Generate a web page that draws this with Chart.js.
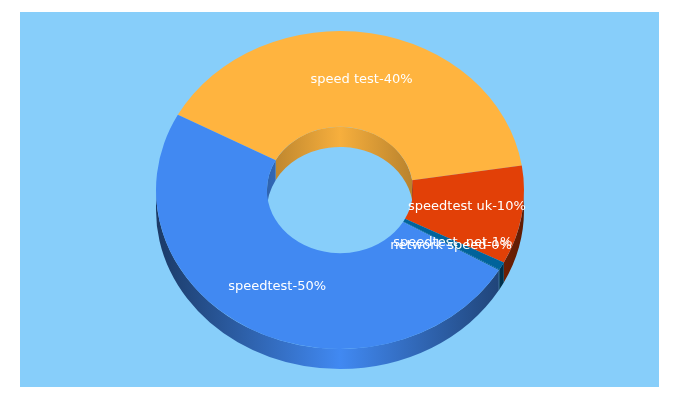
<!DOCTYPE html>
<html>
<head>
    <title>Keyword share</title>
    <style>
        html, body { margin: 0; padding: 0; background: #fff; }
        #panel { position: absolute; left: 20px; top: 12px; width: 639px; height: 375px; background: #87cefa; }
        #wrap { position: absolute; left: 0; top: 0; width: 680px; height: 400px; }
    </style>
    <script src="https://cdn.jsdelivr.net/npm/chart.js"></script>
</head>
<body>
    <div id="panel"></div>
    <div id="wrap"><canvas id="pie" width="680" height="400"></canvas></div>

    <script>
        const categories = ['speed test', 'speedtest uk', 'speedtest .net', 'network speed', 'speedtest'];
        const shares = [39.7, 10, 0.8, 0.1, 49.4];
        const percentLabels = [40, 10, 1, 0, 50];
        const colors = ['#ffb43f', '#e24007', '#01639b', '#0a5f8c', '#4189f2'];

        const squash = 159 / 184; // the top face is an ellipse
        const depth = 20;

        function shade(hex, f) {
            const n = parseInt(hex.slice(1), 16);
            return 'rgb(' + Math.round((n >> 16) * f) + ',' + Math.round(((n >> 8) & 255) * f) + ',' + Math.round((n & 255) * f) + ')';
        }

        // part of [a, b] inside the half turns starting at from, from + 2 PI, ...
        function clipAngles(a, b, from) {
            const out = [];
            for (let k = 0; k < 3; k++) {
                const lo = Math.max(a, from + k * 2 * Math.PI);
                const hi = Math.min(b, from + k * 2 * Math.PI + Math.PI);
                if (hi > lo) out.push([lo, hi]);
            }
            return out;
        }

        function wall(ctx, x, y, r, a, b, fill) {
            ctx.beginPath();
            ctx.arc(x, y, r, a, b);
            ctx.arc(x, y + depth / squash, r, b, a, true);
            ctx.closePath();
            ctx.fillStyle = fill;
            ctx.fill();
        }

        const pie3d = {
            id: 'pie3d',
            beforeDatasetDraw(chart) {
                const ctx = chart.ctx;
                const arcs = chart.getDatasetMeta(0).data;
                const x = arcs[0].x, y = arcs[0].y;
                ctx.save();
                ctx.translate(x, y);
                ctx.scale(1, squash);
                ctx.translate(-x, -y);
                arcs.forEach(function (el, i) {
                    const R = el.outerRadius, r = el.innerRadius;
                    const outer = ctx.createLinearGradient(x - R, 0, x + R, 0);
                    outer.addColorStop(0, shade(colors[i], 0.42));
                    outer.addColorStop(0.5, shade(colors[i], 1));
                    outer.addColorStop(1, shade(colors[i], 0.42));
                    clipAngles(el.startAngle, el.endAngle, 0).forEach(function (p) {
                        wall(ctx, x, y, R, p[0], p[1], outer);
                    });
                    const inner = ctx.createLinearGradient(x - r, 0, x + r, 0);
                    inner.addColorStop(0, shade(colors[i], 0.72));
                    inner.addColorStop(0.5, shade(colors[i], 0.97));
                    inner.addColorStop(1, shade(colors[i], 0.72));
                    clipAngles(el.startAngle, el.endAngle, Math.PI).forEach(function (p) {
                        wall(ctx, x, y, r, p[0], p[1], inner);
                    });
                });
            },
            afterDatasetDraw(chart) {
                chart.ctx.restore();
            },
            afterDatasetsDraw(chart) {
                const ctx = chart.ctx;
                ctx.save();
                ctx.font = '13px "DejaVu Sans"';
                ctx.fillStyle = '#fff';
                ctx.textAlign = 'center';
                ctx.textBaseline = 'middle';
                chart.getDatasetMeta(0).data.forEach(function (el, i) {
                    const mid = (el.startAngle + el.endAngle) / 2;
                    const rm = (el.outerRadius + el.innerRadius) / 2;
                    const text = categories[i] + '-' + percentLabels[i] + '%';
                    ctx.fillText(text, el.x + rm * Math.cos(mid), el.y + rm * squash * Math.sin(mid) - 0.5);
                });
                ctx.restore();
            }
        };

        new Chart(document.getElementById('pie'), {
            type: 'doughnut',
            data: {
                labels: categories,
                datasets: [{
                    data: shares,
                    backgroundColor: colors,
                    borderWidth: 0,
                    clip: false
                }]
            },
            options: {
                responsive: false,
                animation: false,
                rotation: 298.2,
                cutout: '39.7%',
                layout: { padding: { top: 6, bottom: 26 } },
                plugins: { legend: { display: false }, tooltip: { enabled: false } }
            },
            plugins: [pie3d]
        });
    </script>
</body>
</html>
